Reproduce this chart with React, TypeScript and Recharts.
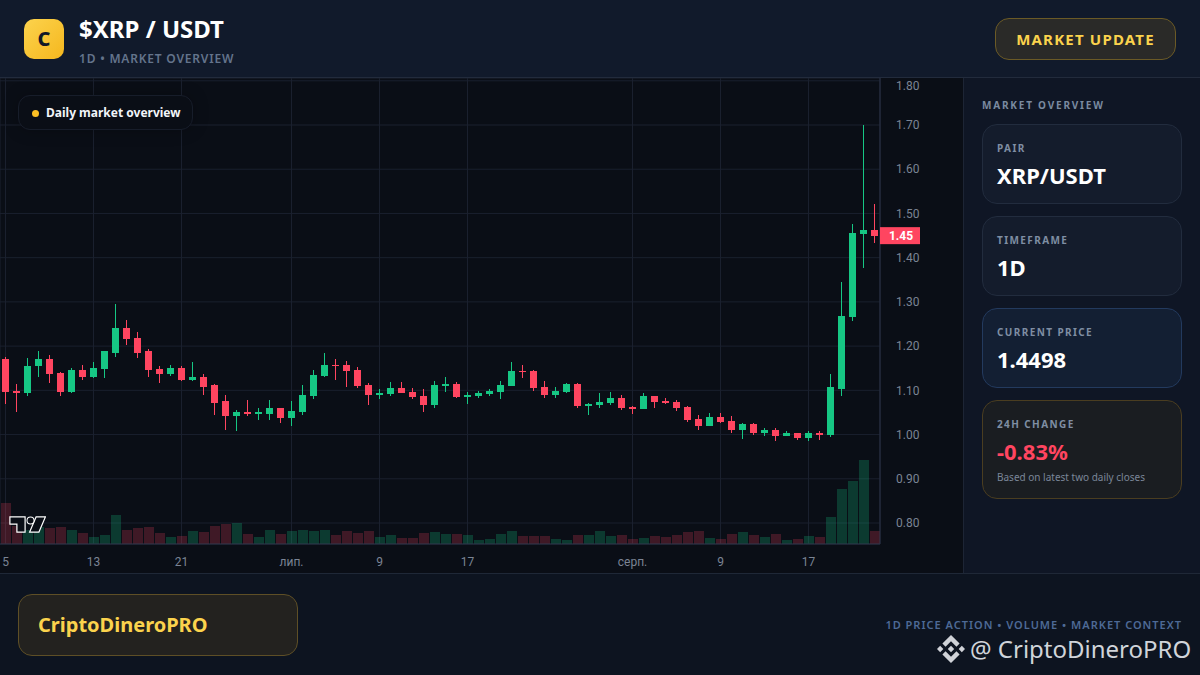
import React from 'react';
import { ComposedChart, Bar, XAxis, YAxis, CartesianGrid, ReferenceDot } from 'recharts';

// daily candles, 5 Jun - 23 Aug
const days = [
  '06-05', '06-06', '06-07', '06-08', '06-09', '06-10', '06-11', '06-12', '06-13', '06-14',
  '06-15', '06-16', '06-17', '06-18', '06-19', '06-20', '06-21', '06-22', '06-23', '06-24',
  '06-25', '06-26', '06-27', '06-28', '06-29', '06-30', '07-01', '07-02', '07-03', '07-04',
  '07-05', '07-06', '07-07', '07-08', '07-09', '07-10', '07-11', '07-12', '07-13', '07-14',
  '07-15', '07-16', '07-17', '07-18', '07-19', '07-20', '07-21', '07-22', '07-23', '07-24',
  '07-25', '07-26', '07-27', '07-28', '07-29', '07-30', '07-31', '08-01', '08-02', '08-03',
  '08-04', '08-05', '08-06', '08-07', '08-08', '08-09', '08-10', '08-11', '08-12', '08-13',
  '08-14', '08-15', '08-16', '08-17', '08-18', '08-19', '08-20', '08-21', '08-22', '08-23',
];
const opens = [
  1.170, 1.099, 1.093, 1.154, 1.170, 1.140, 1.097, 1.145, 1.131, 1.149,
  1.185, 1.240, 1.219, 1.188, 1.149, 1.136, 1.151, 1.124, 1.131, 1.111,
  1.075, 1.043, 1.050, 1.047, 1.047, 1.061, 1.038, 1.051, 1.088, 1.133,
  1.158, 1.158, 1.146, 1.113, 1.090, 1.092, 1.106, 1.097, 1.088, 1.067,
  1.110, 1.115, 1.085, 1.088, 1.092, 1.097, 1.110, 1.144, 1.144, 1.108,
  1.090, 1.097, 1.115, 1.065, 1.067, 1.071, 1.083, 1.062, 1.058, 1.087,
  1.076, 1.074, 1.062, 1.035, 1.019, 1.040, 1.031, 1.010, 1.024, 1.003,
  1.010, 0.997, 1.003, 0.992, 1.003, 0.999, 1.103, 1.266, 1.453, 1.462,
];
const closes = [
  1.097, 1.093, 1.156, 1.170, 1.136, 1.097, 1.145, 1.131, 1.151, 1.188,
  1.240, 1.217, 1.185, 1.145, 1.136, 1.151, 1.124, 1.131, 1.108, 1.072,
  1.043, 1.050, 1.047, 1.050, 1.061, 1.038, 1.054, 1.090, 1.135, 1.158,
  1.156, 1.144, 1.110, 1.090, 1.094, 1.106, 1.094, 1.085, 1.067, 1.113,
  1.115, 1.085, 1.090, 1.094, 1.099, 1.113, 1.144, 1.142, 1.106, 1.090,
  1.099, 1.115, 1.065, 1.070, 1.074, 1.083, 1.060, 1.058, 1.087, 1.074,
  1.071, 1.060, 1.033, 1.019, 1.040, 1.028, 1.010, 1.024, 1.003, 1.010,
  0.997, 1.003, 0.992, 1.003, 0.999, 1.108, 1.268, 1.456, 1.462, 1.4498,
];
const highs = [
  1.176, 1.115, 1.174, 1.188, 1.179, 1.142, 1.151, 1.158, 1.163, 1.190,
  1.296, 1.258, 1.231, 1.194, 1.154, 1.158, 1.156, 1.165, 1.136, 1.115,
  1.090, 1.056, 1.079, 1.061, 1.079, 1.061, 1.075, 1.113, 1.146, 1.185,
  1.171, 1.167, 1.153, 1.117, 1.103, 1.119, 1.119, 1.106, 1.103, 1.122,
  1.131, 1.119, 1.097, 1.099, 1.103, 1.122, 1.165, 1.158, 1.146, 1.122,
  1.108, 1.117, 1.117, 1.072, 1.094, 1.096, 1.089, 1.065, 1.094, 1.087,
  1.083, 1.078, 1.065, 1.044, 1.049, 1.049, 1.042, 1.026, 1.026, 1.015,
  1.015, 1.008, 1.003, 1.008, 1.008, 1.137, 1.345, 1.476, 1.700, 1.521,
];
const lows = [
  1.068, 1.050, 1.088, 1.131, 1.117, 1.088, 1.095, 1.124, 1.129, 1.127,
  1.176, 1.203, 1.172, 1.131, 1.117, 1.133, 1.122, 1.120, 1.090, 1.045,
  1.011, 1.009, 1.043, 1.032, 1.032, 1.027, 1.020, 1.045, 1.081, 1.131,
  1.124, 1.108, 1.106, 1.067, 1.081, 1.088, 1.094, 1.081, 1.051, 1.060,
  1.097, 1.083, 1.070, 1.083, 1.088, 1.081, 1.110, 1.128, 1.099, 1.083,
  1.083, 1.094, 1.060, 1.045, 1.060, 1.067, 1.056, 1.046, 1.058, 1.060,
  1.069, 1.053, 1.028, 1.010, 1.019, 1.026, 1.003, 0.990, 0.999, 0.997,
  0.985, 0.997, 0.988, 0.985, 0.988, 0.994, 1.087, 1.257, 1.376, 1.433,
];
// relative volume, the pane has no scale of its own
const volumes = [
  123, 54, 42, 52, 48, 51, 42, 33, 21, 27,
  87, 42, 48, 51, 33, 21, 24, 39, 36, 54,
  60, 63, 30, 21, 42, 30, 39, 42, 39, 42,
  27, 39, 33, 39, 21, 27, 18, 18, 33, 36,
  30, 30, 27, 12, 15, 30, 39, 24, 24, 24,
  15, 12, 27, 27, 40, 25, 28, 16, 19, 25,
  22, 28, 37, 40, 19, 16, 31, 37, 28, 22,
  31, 13, 16, 25, 22, 82, 166, 190, 253, 40,
];
const priceTicks = [0.8, 0.9, 1.0, 1.1, 1.2, 1.3, 1.4, 1.5, 1.6, 1.7, 1.8];
const dateTicks = ['06-05', '06-13', '06-21', '07-01', '07-09', '07-17', '08-01', '08-09', '08-17'];
const dateLabels = ['5', '13', '21', 'лип.', '9', '17', 'серп.', '9', '17'];
const lastPrice = 1.4498;

const data = days.map((day, i) => ({
  day,
  open: opens[i],
  close: closes[i],
  high: highs[i],
  low: lows[i],
  volume: volumes[i],
}));

const UP = '#16c784';
const DOWN = '#ff4560';
const AXIS = '#2a3347';
const GRID = '#1a202e';
const FONT = '"Noto Sans", sans-serif';

function Candle(props: any) {
  const { x, y, width, height, payload } = props;
  const { open, close, high, low } = payload;
  const color = close >= open ? UP : DOWN;
  const perUnit = height / (high - low);
  const top = y + (high - Math.max(open, close)) * perUnit;
  const bodyH = Math.max(Math.abs(open - close) * perUnit, 1);
  return (
    <g shapeRendering="crispEdges">
      <rect x={Math.floor(x + width / 2)} y={y} width={1} height={height} fill={color} />
      <rect x={x} y={top} width={width} height={bodyH} fill={color} />
    </g>
  );
}

function VolumeBar(props: any) {
  const { x, y, width, height, payload } = props;
  const up = payload.close >= payload.open;
  return (
    <rect
      x={Math.floor(x)}
      y={y}
      width={width}
      height={height}
      fill={up ? UP : DOWN}
      fillOpacity={up ? 0.24 : 0.22}
      shapeRendering="crispEdges"
    />
  );
}

function PriceTag(props: any) {
  const { cx, cy } = props;
  const left = cx + 5.5;
  return (
    <g>
      <rect x={left} y={cy - 8.5} width={40} height={17} fill={DOWN} />
      <text x={left + 21} y={cy + 4.5} textAnchor="middle" fontSize={12} fontWeight={700} fontFamily="Roboto" fill="#fff">
        {lastPrice.toFixed(2)}
      </text>
    </g>
  );
}

function Abs({ style, children }: { style: React.CSSProperties; children?: React.ReactNode }) {
  return <div style={{ position: 'absolute', whiteSpace: 'nowrap', ...style }}>{children}</div>;
}

function Card({ top, height, bg, border, label, value, valueColor, note }: any) {
  return (
    <Abs style={{ left: 982, top, width: 198, height: height - 2, background: bg, border: `1px solid ${border}`, borderRadius: 15 }}>
      <Abs style={{ left: 14, top: 16, fontSize: 10, fontWeight: 700, letterSpacing: 1.4, color: '#7f8ea3', lineHeight: '14px' }}>{label}</Abs>
      <Abs style={{ left: 14, top: 35, fontSize: 22, fontWeight: 700, color: valueColor, lineHeight: '30px' }}>{value}</Abs>
      {note && <Abs style={{ left: 14, top: 69, fontSize: 10, color: '#7a8698', lineHeight: '14px' }}>{note}</Abs>}
    </Abs>
  );
}

export default function App() {
  return (
    <div style={{ position: 'absolute', left: 0, top: 0, width: 1200, height: 675, overflow: 'hidden', background: '#0f1624', fontFamily: FONT }}>
      {/* header */}
      <Abs style={{ left: 0, top: 0, width: 1200, height: 77, background: '#111a2b', borderBottom: '1px solid #222b3c' }} />
      <Abs style={{ left: 24, top: 19, width: 40, height: 40, borderRadius: 10, background: 'linear-gradient(135deg,#fcd34d,#f5b71e)', color: '#111827', fontSize: 20, fontWeight: 800, textAlign: 'center', lineHeight: '40px' }}>C</Abs>
      <Abs style={{ left: 79, top: 12, fontSize: 24, fontWeight: 700, color: '#fff', lineHeight: '33px' }}>$XRP / USDT</Abs>
      <Abs style={{ left: 79, top: 51, fontSize: 12, fontWeight: 600, letterSpacing: 0.8, color: '#64748b', lineHeight: '16px' }}>1D • MARKET OVERVIEW</Abs>
      <Abs style={{ left: 995, top: 18, width: 179, height: 40, borderRadius: 14, border: '1px solid #6b5a26', background: '#2a2a28', color: '#fbd34d', fontSize: 15, fontWeight: 700, letterSpacing: 1.2, textAlign: 'center', lineHeight: '40px' }}>MARKET UPDATE</Abs>

      {/* chart */}
      <Abs style={{ left: 0, top: 78, width: 963, height: 495, background: '#0a0e16' }}>
        <ComposedChart width={963} height={495} data={data} margin={{ top: 0, right: 0, bottom: 0, left: 0 }}>
          <CartesianGrid xAxisId="time" yAxisId="price" stroke={GRID} />
          <XAxis
            xAxisId="time"
            dataKey="day"
            ticks={dateTicks}
            interval={0}
            height={29}
            stroke={AXIS}
            tickLine={false}
            tickMargin={7}
            tick={{ fill: '#7b8494', fontSize: 12, fontFamily: 'Roboto' }}
            tickFormatter={(d: string) => dateLabels[dateTicks.indexOf(d)]}
          />
          <XAxis xAxisId="vol" dataKey="day" hide />
          <YAxis
            yAxisId="price"
            orientation="right"
            width={83}
            domain={[0.7525, 1.8063]}
            ticks={priceTicks}
            allowDataOverflow
            stroke={AXIS}
            tickLine={false}
            tickMargin={10}
            tick={{ fill: '#7b8494', fontSize: 12, fontFamily: 'Roboto' }}
            tickFormatter={(v: number) => v.toFixed(2)}
          />
          <YAxis yAxisId="vol" hide domain={[0, 1398]} />
          <Bar xAxisId="vol" yAxisId="vol" dataKey="volume" barSize={10} shape={VolumeBar} isAnimationActive={false} />
          <Bar
            xAxisId="time"
            yAxisId="price"
            dataKey={(d: any) => [d.low, d.high]}
            barSize={7}
            shape={Candle}
            isAnimationActive={false}
          />
          <ReferenceDot xAxisId="time" yAxisId="price" x={days[days.length - 1]} y={lastPrice} shape={PriceTag} ifOverflow="visible" />
        </ComposedChart>
      </Abs>
      <Abs style={{ left: 18, top: 95, width: 173, height: 33, borderRadius: 12, background: '#0a0e16', border: '1px solid #171d2a', boxShadow: '0 0 16px rgba(0,0,0,.25)' }}>
        <Abs style={{ left: 13, top: 14, width: 7, height: 7, borderRadius: 4, background: '#fbbf24' }} />
        <Abs style={{ left: 27, top: 8, fontSize: 12, fontWeight: 700, color: '#f1f5f9', lineHeight: '18px' }}>Daily market overview</Abs>
      </Abs>
      {/* attribution mark */}
      <svg style={{ position: 'absolute', left: 9, top: 514 }} width={37} height={21} viewBox="-1.5 4.5 37 17">
        <path d="M14 6H0v6h7v8h7V6zM28 20h-8l6-14h8l-6 14z" fill="#0a0e16" stroke="#fff" strokeWidth={2.4} paintOrder="stroke" />
        <circle cx="20" cy="9" r="3" fill="#0a0e16" stroke="#fff" strokeWidth={2} paintOrder="stroke" />
      </svg>

      {/* right panel */}
      <Abs style={{ left: 963, top: 78, width: 237, height: 495, background: '#0f1625', borderLeft: '1px solid #1d2535' }} />
      <Abs style={{ left: 982, top: 98, fontSize: 10, fontWeight: 700, letterSpacing: 1.8, color: '#7a8aa0', lineHeight: '14px' }}>MARKET OVERVIEW</Abs>
      <Card top={124} height={80} bg="#141c2c" border="#222c3e" label="PAIR" value="XRP/USDT" valueColor="#fff" />
      <Card top={216} height={80} bg="#141c2c" border="#222c3e" label="TIMEFRAME" value="1D" valueColor="#fff" />
      <Card top={308} height={80} bg="#131f33" border="#233a5e" label="CURRENT PRICE" value="1.4498" valueColor="#fff" />
      <Card top={400} height={99} bg="#1a1d21" border="#4a3d20" label="24H CHANGE" value="-0.83%" valueColor="#ff4560" note="Based on latest two daily closes" />

      {/* footer */}
      <Abs style={{ left: 0, top: 573, width: 1200, height: 102, background: '#0d1420', borderTop: '1px solid #1f2837', boxSizing: 'border-box' }} />
      <Abs style={{ left: 18, top: 594, width: 278, height: 60, borderRadius: 14, background: '#23221f', border: '1px solid #5e4f26', color: '#fbd34d', fontSize: 20, fontWeight: 700, lineHeight: '60px', textIndent: 19 }}>CriptoDineroPRO</Abs>
      <Abs style={{ right: 18, top: 617, fontSize: 11, fontWeight: 600, letterSpacing: 1, color: '#4e6a96', lineHeight: '16px' }}>1D PRICE ACTION • VOLUME • MARKET CONTEXT</Abs>
      <svg style={{ position: 'absolute', left: 937, top: 635 }} width={28} height={28} viewBox="0 0 126.61 126.61" fill="#d0d3d8">
        <path d="M38.73 53.2l24.59-24.58 24.6 24.6 14.3-14.31L63.32 0 24.42 38.9l14.31 14.3z" />
        <path d="M0 63.31l14.3-14.31 14.31 14.31-14.31 14.3z" />
        <path d="M38.73 73.41l24.59 24.59 24.6-24.6 14.31 14.29-38.9 38.91-38.91-38.88-.02-.03 14.33-14.28z" />
        <path d="M98 63.31l14.3-14.3 14.31 14.3-14.31 14.3z" />
        <path d="M77.83 63.3L63.32 48.78 48.81 63.28l14.51 14.52 14.51-14.5z" />
      </svg>
      <Abs style={{ left: 970, top: 632, fontSize: 24, color: '#d0d4da', lineHeight: '33px' }}>@ CriptoDineroPRO</Abs>
    </div>
  );
}
